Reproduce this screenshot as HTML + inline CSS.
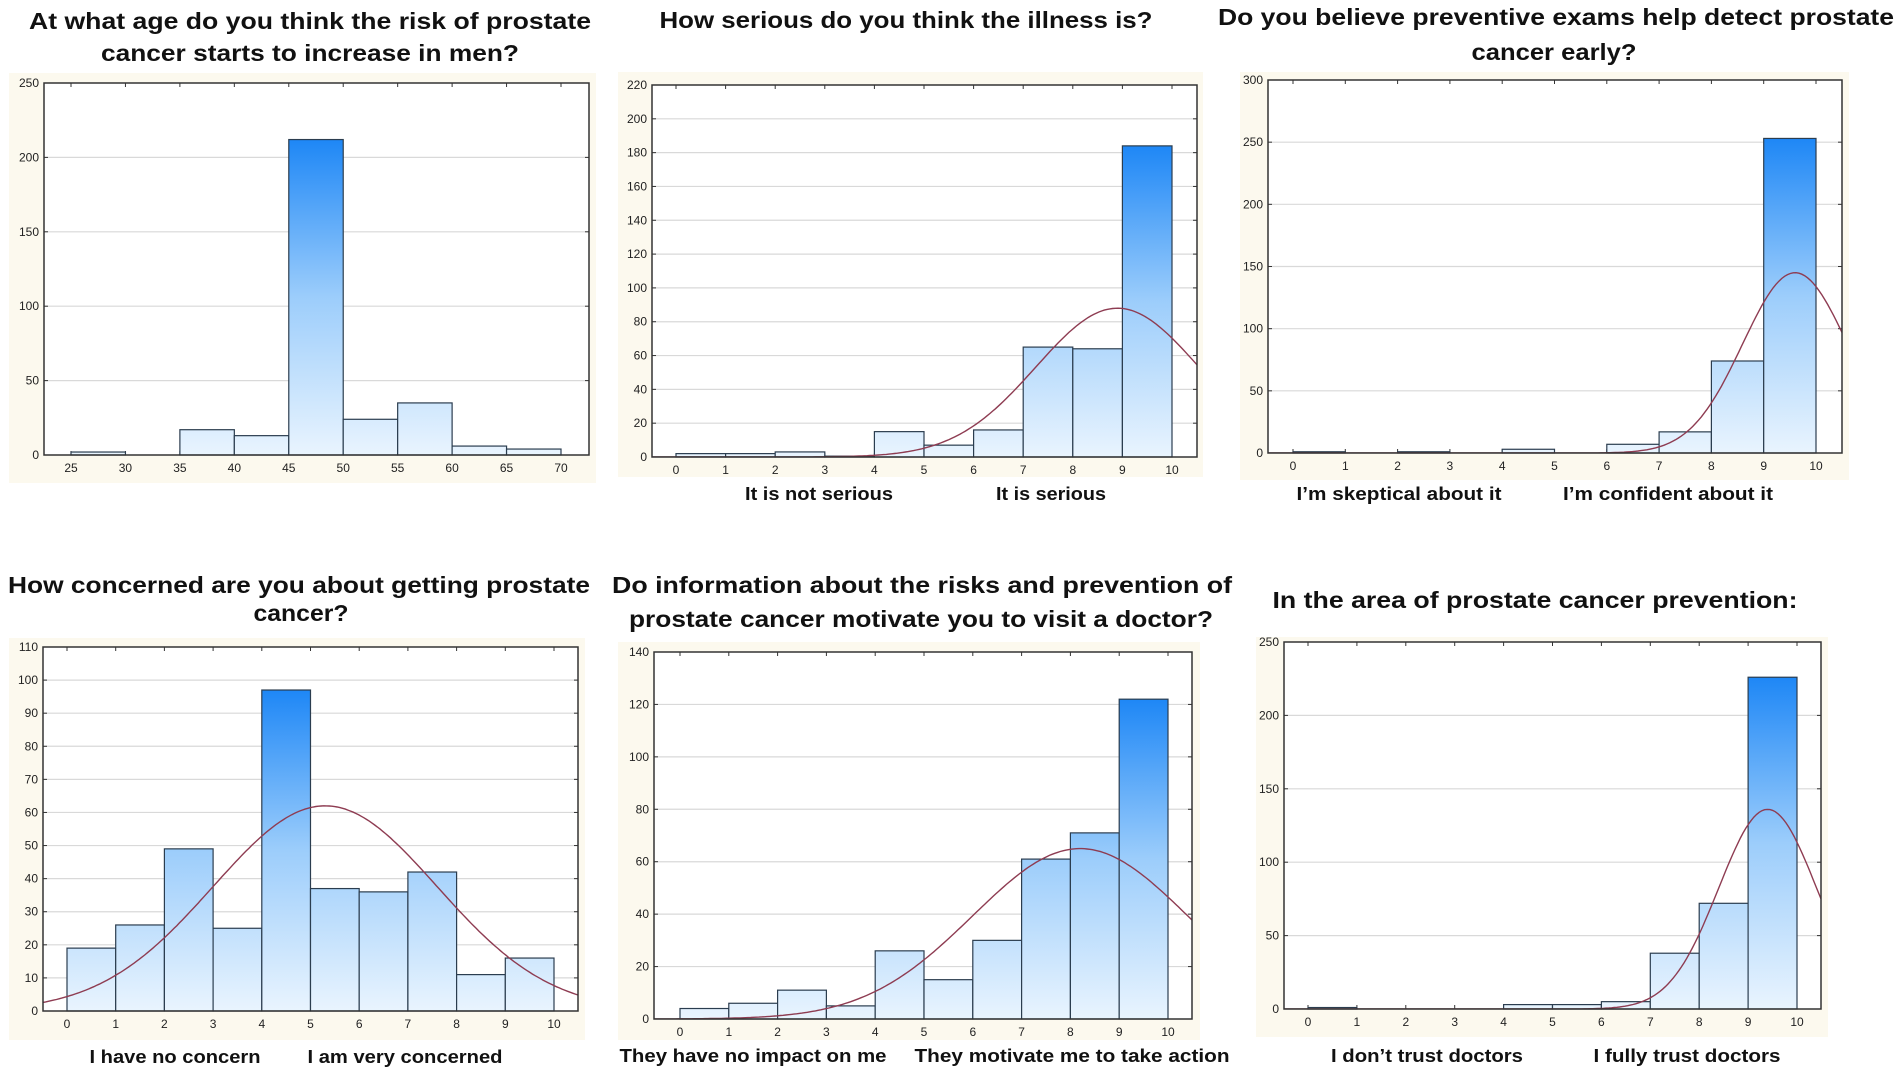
<!DOCTYPE html>
<html><head><meta charset="utf-8">
<style>
html,body{margin:0;padding:0;background:#fff;}
svg{display:block;font-family:"Liberation Sans",Arial,sans-serif;}
.title{font-weight:bold;font-size:23px;fill:#111;}
.lbl{font-weight:bold;font-size:18px;fill:#111;}
.tick{font-size:12px;fill:#222;}
</style></head>
<body>
<svg id="root" width="1902" height="1073" viewBox="0 0 1902 1073" xmlns="http://www.w3.org/2000/svg">
<defs>
<clipPath id="c1"><rect x="44" y="83" width="545" height="372"/></clipPath>
</defs>
</svg>
<script>
// ---------- DATA ----------
const ageBins = [25,30,35,40,45,50,55,60,65];
const ageCounts = [2,0,17,13,212,24,35,6,4];
const ageTicks = [25,30,35,40,45,50,55,60,65,70];
const ageYTicks = [0,50,100,150,200,250];

const scaleBins = [0,1,2,3,4,5,6,7,8,9];
const scaleTicks = [0,1,2,3,4,5,6,7,8,9,10];

const seriousCounts = [2,2,3,0.5,15,7,16,65,64,184];
const seriousYTicks = [0,20,40,60,80,100,120,140,160,180,200,220];
const seriousCurve = [88,8.9,1.64]; // peak, mean, sd

const examsCounts = [1,0,1,0,3,0,7,17,74,253];
const examsYTicks = [0,50,100,150,200,250,300];
const examsCurve = [145,9.6,1.0];

const concernCounts = [19,26,49,25,97,37,36,42,11,16];
const concernYTicks = [0,10,20,30,40,50,60,70,80,90,100,110];
const concernCurve = [62,5.3,2.3];

const motivCounts = [4,6,11,5,26,15,30,61,71,122];
const motivYTicks = [0,20,40,60,80,100,120,140];
const motivCurve = [65,8.2,2.2];

const trustCounts = [1,0,0,0,3,3,5,38,72,226];
const trustYTicks = [0,50,100,150,200,250];
const trustCurve = [136,9.4,1.0];

// ---------- DRAWING ----------
const NS = "http://www.w3.org/2000/svg";
const root = document.getElementById('root');
const defs = root.querySelector('defs');
function mk(tag, attrs, parent){
  const e = document.createElementNS(NS, tag);
  for (const k in attrs) e.setAttribute(k, attrs[k]);
  (parent||root).appendChild(e);
  return e;
}

function panel(id, L, bins, binW, counts, xTicks, yTicks, curve){
  const g = mk('g', {});
  
  
  // background
  const bg = mk('rect', {x:L.bx0, y:L.by0, width:L.bx1-L.bx0, height:L.by1-L.by0, fill:'#fcf9ee'}, g);
  
  
  mk('rect', {x:L.fx0, y:L.fy0, width:L.fx1-L.fx0, height:L.fy1-L.fy0, fill:'#fff'}, g);
  const yMax = yTicks[yTicks.length-1];
  const X = v => L.x0 + (v - L.xv0) * (L.x1 - L.x0) / (L.xv1 - L.xv0);
  const Y = v => L.fy1 - v * (L.fy1 - L.fy0) / yMax;
  // gridlines
  yTicks.forEach(t => {
    if (t > 0 && t < yMax) {
      const gl = mk('line', {x1:L.fx0, x2:L.fx1, y1:Y(t), y2:Y(t), stroke:'#d9d9d9', 'stroke-width':1.2}, g);
      
      
    }
    const tl = mk('text', {x:L.fx0-5, y:Y(t)+4, 'text-anchor':'end', class:'tick'}, g);
    tl.textContent = t;
    
    
    mk('line', {x1:L.fx0, x2:L.fx0+4, y1:Y(t), y2:Y(t), stroke:'#333'}, g);
    mk('line', {x1:L.fx1, x2:L.fx1-4, y1:Y(t), y2:Y(t), stroke:'#333'}, g);
  });
  xTicks.forEach(t => {
    const xl = mk('text', {x:X(t), y:L.fy1+17, 'text-anchor':'middle', class:'tick'}, g);
    xl.textContent = t;
    
    
    mk('line', {x1:X(t), x2:X(t), y1:L.fy1, y2:L.fy1-4, stroke:'#333'}, g);
    mk('line', {x1:X(t), x2:X(t), y1:L.fy0, y2:L.fy0+4, stroke:'#333'}, g);
  });
  // gradient
  const maxC = Math.max(...counts);
  const gr = mk('linearGradient', {id:'gr-'+id, gradientUnits:'userSpaceOnUse', x1:0, x2:0, y1:Y(0), y2:Y(maxC)}, defs);
  mk('stop', {offset:'0', 'stop-color':'#e9f4fe'}, gr);
  mk('stop', {offset:'0.5', 'stop-color':'#9ccdfb'}, gr);
  mk('stop', {offset:'1', 'stop-color':'#1e87f6'}, gr);
  // bars
  counts.forEach((c, i) => {
    const x0 = X(bins[i]), x1 = X(bins[i] + binW);
    if (c <= 0) return;
    const b = mk('rect', {x:x0, y:Y(c), width:x1-x0, height:Y(0)-Y(c), fill:'url(#gr-'+id+')', stroke:'#2b3d4f', 'stroke-width':1.2}, g);
    
    
  });
  // curve
  if (curve) {
    const cp = mk('clipPath', {id:'cl-'+id}, defs);
    mk('rect', {x:L.fx0, y:L.fy0, width:L.fx1-L.fx0, height:L.fy1-L.fy0}, cp);
    const pts = [];
    const a = L.xv0 + (L.fx0 - L.x0) / (L.x1 - L.x0) * (L.xv1 - L.xv0);
    const b2 = L.xv0 + (L.fx1 - L.x0) / (L.x1 - L.x0) * (L.xv1 - L.xv0);
    for (let k = 0; k <= 200; k++) {
      const v = a + (b2 - a) * k / 200;
      const yv = curve[0] * Math.exp(-Math.pow(v - curve[1], 2) / (2 * curve[2] * curve[2]));
      pts.push(X(v).toFixed(1) + ',' + Y(yv).toFixed(1));
    }
    const pl = mk('polyline', {points:pts.join(' '), fill:'none', stroke:'#8e3c52', 'stroke-width':1.4, 'clip-path':'url(#cl-'+id+')'}, g);
    
    
  }
  // frame
  const fr = mk('rect', {x:L.fx0, y:L.fy0, width:L.fx1-L.fx0, height:L.fy1-L.fy0, fill:'none', stroke:'#333', 'stroke-width':1.5}, g);
  
  
  // titles
  L.titles.forEach(t => {
    const tt = mk('text', {x:t[1], y:t[2], 'text-anchor':'middle', class:'title', textLength:t[3], lengthAdjust:'spacingAndGlyphs'}, g);
    tt.textContent = t[0];
    
    
  });
  L.labels.forEach(t => {
    const tt = mk('text', {x:t[1], y:L.ly, 'text-anchor':'middle', class:'lbl', textLength:t[2], lengthAdjust:'spacingAndGlyphs'}, g);
    tt.textContent = t[0];
    
    
  });
}

panel('age', {bx0:9,bx1:596,by0:73,by1:483, fx0:44,fx1:589,fy0:83,fy1:455, x0:71,x1:561,xv0:25,xv1:70,
  titles:[['At what age do you think the risk of prostate',310,29,562],['cancer starts to increase in men?',310,61,418]], labels:[], ly:0},
  ageBins, 5, ageCounts, ageTicks, ageYTicks, null);

panel('serious', {bx0:618,bx1:1203,by0:72,by1:477, fx0:652,fx1:1197,fy0:85,fy1:457, x0:676,x1:1172,xv0:0,xv1:10,
  titles:[['How serious do you think the illness is?',906,28,493]],
  labels:[['It is not serious',819,148],['It is serious',1051,110]], ly:500},
  scaleBins, 1, seriousCounts, scaleTicks, seriousYTicks, seriousCurve);

panel('exams', {bx0:1240,bx1:1849,by0:72,by1:480, fx0:1268,fx1:1842,fy0:80,fy1:453, x0:1293,x1:1816,xv0:0,xv1:10,
  titles:[['Do you believe preventive exams help detect prostate',1556,25,676],['cancer early?',1554,60,165]],
  labels:[["I’m skeptical about it",1399,205],["I’m confident about it",1668,210]], ly:500},
  scaleBins, 1, examsCounts, scaleTicks, examsYTicks, examsCurve);

panel('concern', {bx0:9,bx1:585,by0:638,by1:1040, fx0:43,fx1:578,fy0:647,fy1:1011, x0:67,x1:554,xv0:0,xv1:10,
  titles:[['How concerned are you about getting prostate',299,593,582],['cancer?',301,621,95]],
  labels:[['I have no concern',175,171],['I am very concerned',405,195]], ly:1063},
  scaleBins, 1, concernCounts, scaleTicks, concernYTicks, concernCurve);

panel('motivate', {bx0:618,bx1:1200,by0:642,by1:1040, fx0:654,fx1:1192,fy0:652,fy1:1019, x0:680,x1:1168,xv0:0,xv1:10,
  titles:[['Do information about the risks and prevention of',922,593,620],['prostate cancer motivate you to visit a doctor?',921,627,584]],
  labels:[['They have no impact on me',753,267],['They motivate me to take action',1072,315]], ly:1062},
  scaleBins, 1, motivCounts, scaleTicks, motivYTicks, motivCurve);

panel('trust', {bx0:1256,bx1:1828,by0:637,by1:1037, fx0:1284,fx1:1821,fy0:642,fy1:1009, x0:1308,x1:1797,xv0:0,xv1:10,
  titles:[['In the area of prostate cancer prevention:',1535,608,525]],
  labels:[["I don’t trust doctors",1427,192],['I fully trust doctors',1687,187]], ly:1062},
  scaleBins, 1, trustCounts, scaleTicks, trustYTicks, trustCurve);
</script>
</body></html>
